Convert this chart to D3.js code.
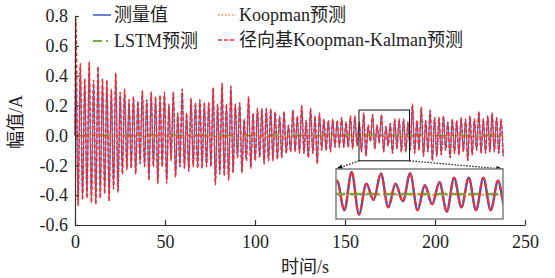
<!DOCTYPE html>
<html>
<head>
<meta charset="utf-8">
<script src="https://cdn.jsdelivr.net/npm/d3@7"></script>
<style>
  body { margin: 0; background: #fff; }
  svg { display: block; }
  text { font-family: "Liberation Serif", "Times New Roman", "Noto Sans CJK SC", serif; fill: #222; }
</style>
</head>
<body>
<svg id="svg" width="555" height="278"></svg>
<script>
// sampled extrema of the measured current: peak i at startTime + 2*i*halfPeriod, trough right after
const startTime = 0.5;
const halfPeriod = 1.23;

const measPeaks = [
    0.42, 0.48, 0.38, 0.49, 0.37, 0.46, 0.38, 0.37, 0.31, 0.42,
    0.29, 0.31, 0.24, 0.26, 0.23, 0.30, 0.24, 0.29, 0.26, 0.27,
    0.29, 0.21, 0.29, 0.15, 0.31, 0.15, 0.25, 0.22, 0.24, 0.22,
    0.22, 0.32, 0.21, 0.35, 0.21, 0.33, 0.21, 0.22, 0.11, 0.26,
    0.15, 0.18, 0.18, 0.18, 0.18, 0.16, 0.13, 0.16, 0.07, 0.17,
    0.13, 0.20, 0.10, 0.18, 0.13, 0.15, 0.11, 0.10, 0.11, 0.10,
    0.12, 0.09, 0.13, 0.13, 0.09, 0.15, 0.07, 0.14, 0.07, 0.14,
    0.06, 0.08, 0.11, 0.11, 0.11, 0.09, 0.21, 0.10, 0.19, 0.10,
    0.17, 0.12, 0.12, 0.13, 0.09, 0.11, 0.10, 0.12, 0.11, 0.13,
    0.11, 0.16, 0.11, 0.13, 0.15, 0.12, 0.11
];
const measTroughs = [
    -0.47, -0.43, -0.42, -0.45, -0.46, -0.42, -0.39, -0.44, -0.36, -0.38,
    -0.26, -0.23, -0.22, -0.26, -0.19, -0.21, -0.30, -0.21, -0.32, -0.21,
    -0.32, -0.17, -0.28, -0.21, -0.22, -0.24, -0.21, -0.22, -0.22, -0.21,
    -0.21, -0.33, -0.26, -0.27, -0.30, -0.25, -0.15, -0.25, -0.17, -0.22,
    -0.17, -0.15, -0.19, -0.17, -0.17, -0.16, -0.15, -0.12, -0.11, -0.11,
    -0.12, -0.12, -0.15, -0.12, -0.19, -0.10, -0.10, -0.11, -0.08, -0.08,
    -0.08, -0.08, -0.09, -0.07, -0.11, -0.14, -0.04, -0.09, -0.05, -0.11,
    -0.07, -0.12, -0.09, -0.11, -0.11, -0.10, -0.12, -0.10, -0.14, -0.11,
    -0.17, -0.14, -0.13, -0.10, -0.15, -0.12, -0.13, -0.11, -0.17, -0.13,
    -0.10, -0.12, -0.12, -0.11, -0.11, -0.12, -0.14
];
// RBF Koopman-Kalman follows the measurement, apart from the start-up spike
const kalmanPeaks = [0.78, ...measPeaks.slice(1)];
const kalmanTroughs = measTroughs;

const koopmanT = [0, 238];
const koopmanV = [-0.005, -0.005];
const lstmT = [0, 238];
const lstmV = [0, 0];

const xTicks = [0, 50, 100, 150, 200, 250];
const yTicks = [-0.6, -0.4, -0.2, 0, 0.2, 0.4, 0.6, 0.8];
const zoomWindow = [157.77, 185.84];
const zoomRange = [-0.17, 0.17];
const legendNames = ['测量值', 'Koopman预测', 'LSTM预测', '径向基Koopman-Kalman预测'];

const colors = {meas: '#3a56c8', koopman: '#ff8a3c', lstm: '#6cb043', kalman: '#ff2a2a'};

function toSeries (peaks, troughs) {
    let pts = [{t: 0, v: 0}];
    peaks.forEach((p, i) => {
        pts.push({t: startTime + 2 * i * halfPeriod, v: p});
        if (i < troughs.length) pts.push({t: startTime + (2 * i + 1) * halfPeriod, v: troughs[i]});
    });
    return pts;
}

const meas = toSeries(measPeaks, measTroughs);
const kalman = toSeries(kalmanPeaks, kalmanTroughs);
const koopman = koopmanT.map((t, i) => ({t: t, v: koopmanV[i]}));
const lstm = lstmT.map((t, i) => ({t: t, v: lstmV[i]}));

const svg = d3.select('#svg');

const x = d3.scaleLinear().domain([0, 250]).range([75, 525]);
const y = d3.scaleLinear().domain([-0.6, 0.8]).range([225, 16]);

const defs = svg.append('defs');
defs.append('marker')
    .attr('id', 'arrow')
    .attr('viewBox', '0 0 8 6')
    .attr('refX', 8)
    .attr('refY', 3)
    .attr('markerWidth', 7)
    .attr('markerHeight', 5)
    .attr('markerUnits', 'userSpaceOnUse')
    .attr('orient', 'auto')
    .append('path')
        .attr('d', 'M0,0 L8,3 L0,6 Z')
        .style('fill', '#111');

// main traces
let line = d3.line()
    .x(d => x(d.t))
    .y(d => y(d.v))
    .curve(d3.curveMonotoneX);

let plot = svg.append('g');

plot.append('path')
    .attr('d', line(meas))
    .style('fill', 'none')
    .style('stroke', colors.meas)
    .style('stroke-width', 1.1);

plot.append('path')
    .attr('d', line(koopman))
    .style('fill', 'none')
    .style('stroke', colors.koopman)
    .style('stroke-width', 1.5)
    .style('stroke-dasharray', '1.5,2');

plot.append('path')
    .attr('d', line(lstm))
    .style('fill', 'none')
    .style('stroke', colors.lstm)
    .style('stroke-width', 1.8)
    .style('stroke-dasharray', '12,5,2,5');

plot.append('path')
    .attr('d', line(kalman))
    .style('fill', 'none')
    .style('stroke', colors.kalman)
    .style('stroke-width', 1.4)
    .style('stroke-dasharray', '4,2');

// axes
let xAxis = svg.append('g')
    .attr('transform', `translate(0,${y(-0.6)})`)
    .call(d3.axisBottom(x).tickValues(xTicks).tickSize(-5).tickSizeOuter(0).tickPadding(10).tickFormat(d3.format('d')));

let yAxis = svg.append('g')
    .attr('transform', `translate(${x(0)},0)`)
    .call(d3.axisLeft(y).tickValues(yTicks).tickSize(-4).tickSizeOuter(0).tickPadding(7).tickFormat(d => d.toFixed(1)));

[xAxis, yAxis].forEach(a => {
    a.attr('font-family', null).attr('font-size', 18);
    a.select('.domain').style('stroke', '#333').style('stroke-width', 1.2);
    a.selectAll('.tick line').style('stroke', '#333').style('stroke-width', 1.2);
    a.selectAll('.tick text').style('fill', '#222');
});

svg.append('text')
    .attr('x', 305)
    .attr('y', 273)
    .attr('text-anchor', 'middle')
    .style('font-size', '18px')
    .text('时间/s');

svg.append('text')
    .attr('transform', 'translate(22,122) rotate(-90)')
    .attr('text-anchor', 'middle')
    .style('font-size', '18px')
    .text('幅值/A');

// zoomed inset
let zx = d3.scaleLinear().domain(zoomWindow).range([336, 503]);
let zy = d3.scaleLinear().domain(zoomRange).range([219, 169]);

svg.append('rect')
    .attr('x', x(zoomWindow[0]))
    .attr('y', y(zoomRange[1]))
    .attr('width', x(zoomWindow[1]) - x(zoomWindow[0]))
    .attr('height', y(zoomRange[0]) - y(zoomRange[1]))
    .style('fill', 'none')
    .style('stroke', '#111')
    .style('stroke-width', 1);

[[zoomWindow[0], zx.range()[0]], [zoomWindow[1], zx.range()[1]]].forEach(([t, px]) => {
    svg.append('line')
        .attr('x1', x(t))
        .attr('y1', y(zoomRange[0]))
        .attr('x2', px)
        .attr('y2', zy.range()[1])
        .style('stroke', '#111')
        .style('stroke-width', 1.2)
        .style('stroke-dasharray', '1.5,1.5')
        .attr('marker-end', 'url(#arrow)');
});

defs.append('clipPath')
    .attr('id', 'insetClip')
    .append('rect')
        .attr('x', 336)
        .attr('y', 169)
        .attr('width', 167)
        .attr('height', 50);

let inset = svg.append('g');

inset.append('rect')
    .attr('x', 336)
    .attr('y', 169)
    .attr('width', 167)
    .attr('height', 50)
    .style('fill', '#fff');

let zLine = d3.line()
    .x(d => zx(d.t))
    .y(d => zy(d.v))
    .curve(d3.curveMonotoneX);

let insetPlot = inset.append('g').attr('clip-path', 'url(#insetClip)');

insetPlot.append('path')
    .attr('d', zLine(meas))
    .style('fill', 'none')
    .style('stroke', colors.meas)
    .style('stroke-width', 2.4);

insetPlot.append('path')
    .attr('d', zLine(koopman))
    .style('fill', 'none')
    .style('stroke', colors.koopman)
    .style('stroke-width', 1.8)
    .style('stroke-dasharray', '2,2.5');

insetPlot.append('path')
    .attr('d', zLine(lstm))
    .style('fill', 'none')
    .style('stroke', colors.lstm)
    .style('stroke-width', 2.5)
    .style('stroke-dasharray', '13,4');

insetPlot.append('path')
    .attr('d', zLine(kalman))
    .style('fill', 'none')
    .style('stroke', colors.kalman)
    .style('stroke-width', 2)
    .style('stroke-dasharray', '6,2');

inset.append('rect')
    .attr('x', 336)
    .attr('y', 169)
    .attr('width', 167)
    .attr('height', 50)
    .style('fill', 'none')
    .style('stroke', '#808080')
    .style('stroke-width', 1.5);

// legend
const legendItems = [
    {name: legendNames[0], color: colors.meas, dash: null, w: 1.5, x: 93, y: 15},
    {name: legendNames[1], color: colors.koopman, dash: '1.5,2', w: 1.6, x: 218, y: 15},
    {name: legendNames[2], color: colors.lstm, dash: '9,4,2,4', w: 1.8, x: 93, y: 41},
    {name: legendNames[3], color: colors.kalman, dash: '4,2', w: 1.6, x: 218, y: 40}
];

let legend = svg.append('g')
    .selectAll('g')
    .data(legendItems)
    .enter()
    .append('g')
        .attr('transform', d => `translate(${d.x},${d.y})`);

legend.append('line')
    .attr('x1', 0)
    .attr('x2', 18)
    .style('stroke', d => d.color)
    .style('stroke-width', d => d.w)
    .style('stroke-dasharray', d => d.dash);

legend.append('text')
    .attr('x', 21)
    .attr('dy', '0.35em')
    .style('font-size', '18px')
    .text(d => d.name);
</script>
</body>
</html>
